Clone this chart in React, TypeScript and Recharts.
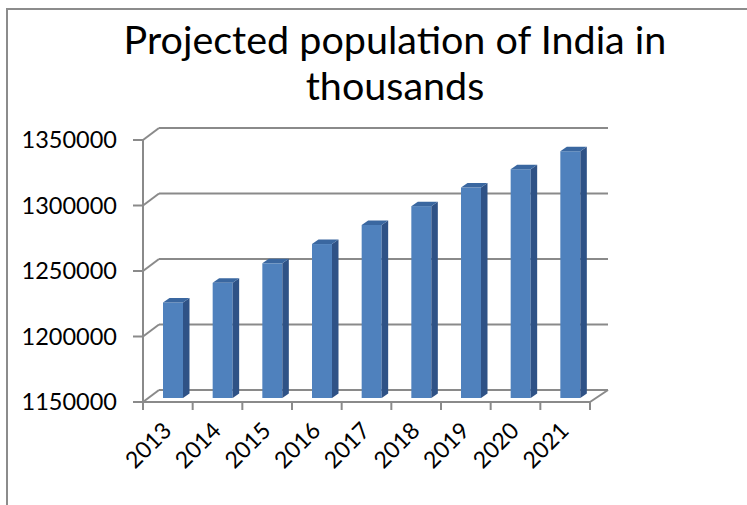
import { BarChart, Bar, XAxis, YAxis, CartesianGrid } from 'recharts'

const years = ['2013', '2014', '2015', '2016', '2017', '2018', '2019', '2020', '2021']
const population = [1222897, 1237924, 1252800, 1267521, 1282071, 1296442, 1310631, 1324624, 1338356]
const yTicks = [1150000, 1200000, 1250000, 1300000, 1350000]

const data = years.map((year, i) => ({ year, population: population[i] }))

// oblique 3D offsets of the back wall / floor
const DX = 16
const DY = 12
const GRID = '#8a8a8a'
const FONT = 'Lato, "Open Sans", sans-serif'

const PLOT_LEFT = 143
const PLOT_RIGHT = 590
const BAND = (PLOT_RIGHT - PLOT_LEFT) / years.length

function GridLine(props: any) {
  const { x1, y1, x2, y2, index } = props
  return (
    <g key={`g-${index}`}>
      <line x1={x1 + DX} y1={y1 - DY} x2={x2 + DX + 2} y2={y2 - DY} stroke={GRID} strokeWidth={2} />
      <line x1={x1} y1={y1} x2={x1 + DX} y2={y1 - DY} stroke={GRID} strokeWidth={2} />
      {index === 0 && (
        <line x1={x2} y1={y2} x2={x2 + DX + 2} y2={y2 - DY} stroke={GRID} strokeWidth={2} />
      )}
    </g>
  )
}

function Bar3D(props: any) {
  const { x, y, width, height } = props
  const fx = x + 5
  const fy = y - 4
  const sd = 6.5
  const sh = 4.5
  return (
    <g>
      <rect x={fx} y={fy} width={width} height={height} fill="#4f81bd" />
      <polygon
        points={`${fx + width},${fy} ${fx + width + sd},${fy - sh} ${fx + width + sd},${fy + height - sh} ${fx + width},${fy + height}`}
        fill="#2f5286"
      />
      <polygon
        points={`${fx},${fy} ${fx + sd},${fy - sh} ${fx + width + sd},${fy - sh} ${fx + width},${fy}`}
        fill="#3a67a0"
      />
    </g>
  )
}

function YearTick(props: any) {
  const { x, y, payload, index } = props
  const left = x - BAND / 2
  return (
    <g>
      <line x1={left} y1={y - 8} x2={left} y2={y} stroke={GRID} strokeWidth={2} />
      {index === years.length - 1 && (
        <line x1={x + BAND / 2} y1={y - 8} x2={x + BAND / 2} y2={y} stroke={GRID} strokeWidth={2} />
      )}
      <text
        x={x + 5}
        y={y + 22}
        textAnchor="end"
        transform={`rotate(-45 ${x + 5} ${y + 22})`}
        fontSize={23}
        fontFamily={FONT}
        fill="#000"
      >
        {payload.value}
      </text>
    </g>
  )
}

export default function App() {
  return (
    <div style={{ position: 'absolute', left: 0, top: 0, width: 747, height: 505, overflow: 'hidden', background: '#fff' }}>
      <div
        style={{
          position: 'absolute', left: 6, top: 8, width: 780, height: 540,
          border: '2px solid #8c8c8c', boxSizing: 'border-box',
        }}
      />
      <div
        style={{
          position: 'absolute', left: 0, top: 16, width: 790, textAlign: 'center',
          fontFamily: FONT, fontSize: 39.5, lineHeight: '46px', color: '#000',
        }}
      >
        Projected population of India in<br />thousands
      </div>
      <div style={{ position: 'absolute', left: 0, top: 0 }}>
        <BarChart
          width={747}
          height={505}
          data={data}
          margin={{ top: 140, right: 747 - PLOT_RIGHT, bottom: 23, left: 0 }}
          barCategoryGap={0}
        >
          <CartesianGrid vertical={false} horizontal={(p: any) => <GridLine {...p} />} />
          <XAxis
            dataKey="year"
            height={80}
            interval={0}
            axisLine={{ stroke: GRID, strokeWidth: 2 }}
            tickLine={false}
            tick={(p: any) => <YearTick {...p} />}
          />
          <YAxis
            width={PLOT_LEFT}
            domain={[1150000, 1350000]}
            ticks={yTicks}
            interval={0}
            axisLine={{ stroke: GRID, strokeWidth: 2 }}
            tickLine={{ stroke: GRID, strokeWidth: 2 }}
            tickSize={10}
            tickMargin={16}
            tick={{ fontSize: 23.5, fontFamily: FONT, fill: '#000' }}
          />
          <Bar dataKey="population" barSize={20} shape={(p: any) => <Bar3D {...p} />} isAnimationActive={false} />
        </BarChart>
      </div>
    </div>
  )
}
